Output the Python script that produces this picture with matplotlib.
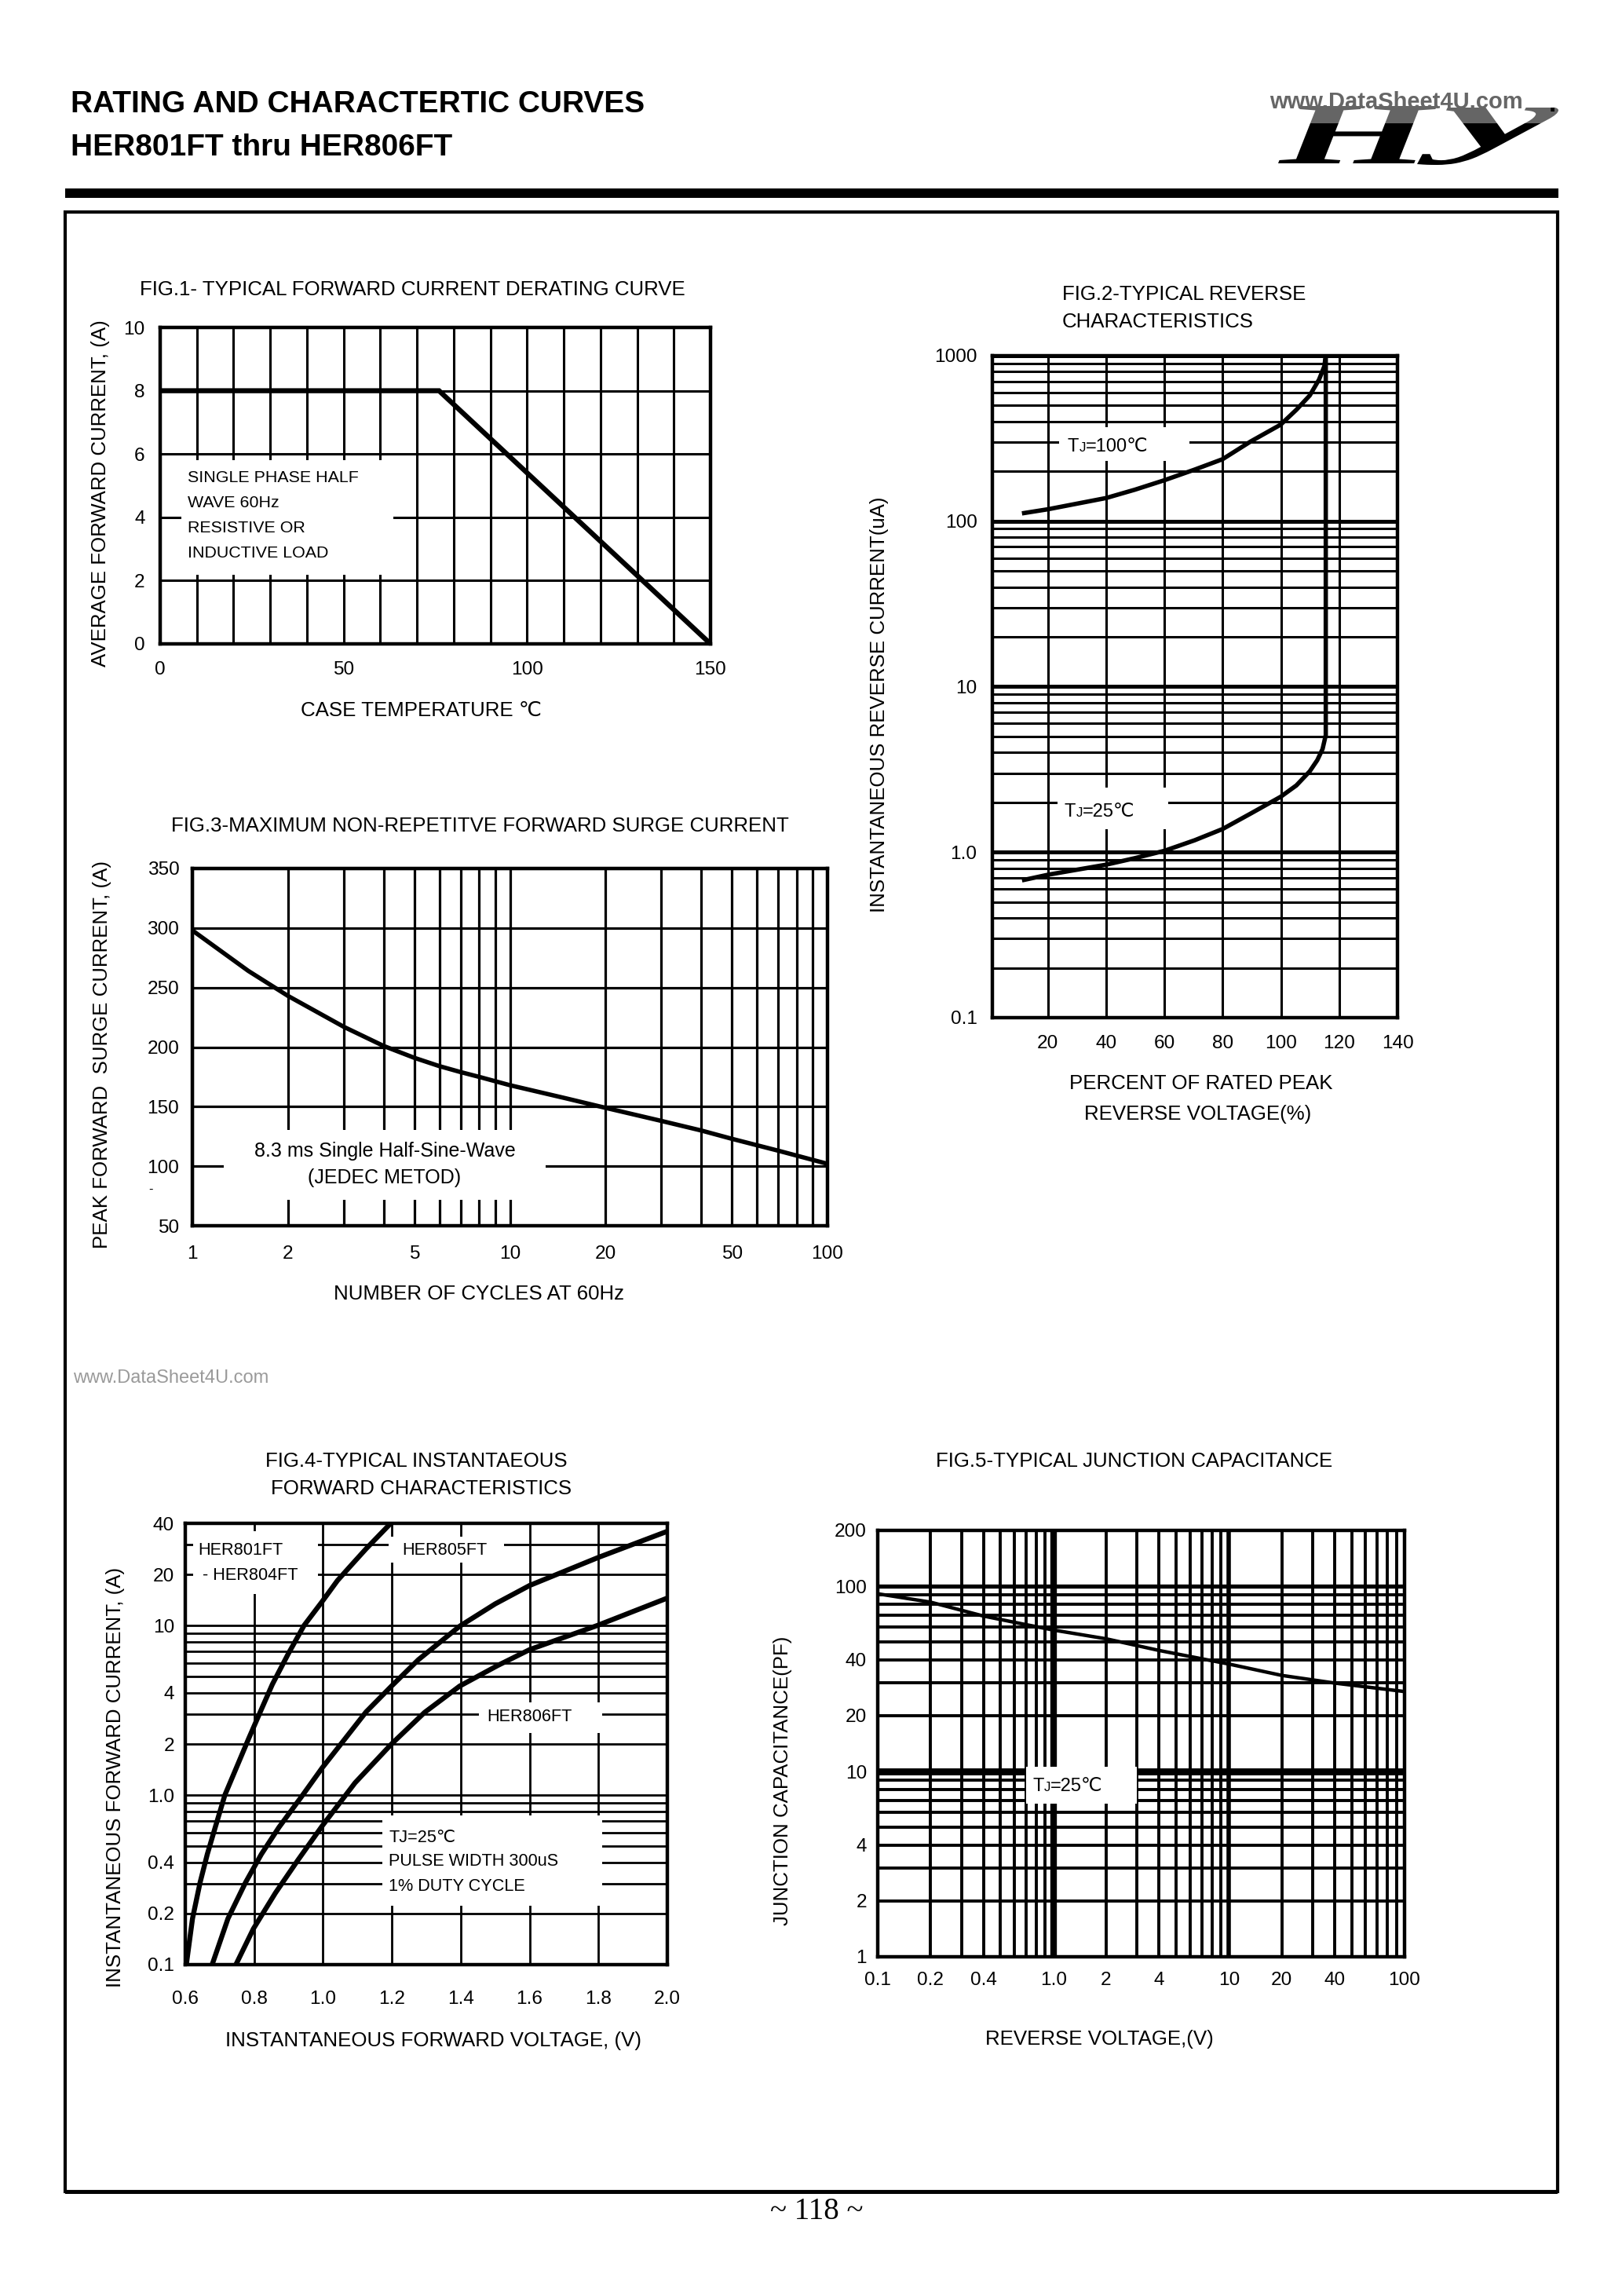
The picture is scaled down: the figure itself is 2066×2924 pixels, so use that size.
import numpy as np
import matplotlib
matplotlib.use("Agg")
import matplotlib.pyplot as plt
from matplotlib.patches import Rectangle, PathPatch
from matplotlib.textpath import TextPath
from matplotlib.font_manager import FontProperties
from matplotlib.transforms import Affine2D
from matplotlib.ticker import NullFormatter

plt.rcParams['font.family'] = ['Liberation Sans', 'DejaVu Sans']

# ---- data ----
# fig.1 derating
fig1_temp = [0, 76, 150]
fig1_amp = [8, 8, 0]

# fig.2 reverse characteristics (TJ=100 branch, breakdown, TJ=25 branch)
fig2_pct_100 = [11.9, 20, 29.4, 40, 49.9, 60.1, 70.4, 80, 89.6, 99.9, 105.3, 109.9, 113.1, 114.9, 115.4]
fig2_ir_100 = [112, 118, 127, 138, 155, 177, 205, 237, 303, 383, 471, 575, 718, 863, 1000]
fig2_pct_25 = [115.4, 114.3, 112.5, 109.9, 105.3, 99.9, 89.6, 80, 70.4, 60.1, 49.9, 40, 29.4, 20, 11.9]
fig2_ir_25 = [5.1, 4.2, 3.6, 3.08, 2.53, 2.16, 1.71, 1.38, 1.18, 1.02, 0.92, 0.84, 0.78, 0.73, 0.68]

# fig.3 surge current (read at the grid lines)
fig3_cycles = [1, 1.5, 2, 3, 4, 5, 6, 7, 8, 10, 15, 20, 30, 40, 50, 70, 100]
fig3_surge = [298, 264, 243, 217, 201, 191, 184, 179, 175, 168, 157, 149, 138, 130, 123, 113, 102]

# fig.4 forward characteristics
her801_v = [0.603, 0.621, 0.643, 0.664, 0.687, 0.715, 0.784, 0.821, 0.853, 0.899, 0.945,
            0.996, 1.042, 1.084, 1.125, 1.194]
her801_i = [0.1, 0.187, 0.305, 0.448, 0.645, 1.0, 2.15, 3.2, 4.5, 6.8, 10.0,
            13.7, 18.4, 22.9, 28.3, 39.5]
her805_v = [0.678, 0.724, 0.775, 0.821, 0.872, 0.941, 0.998, 1.047, 1.125, 1.199, 1.277,
            1.397, 1.5, 1.6, 1.8, 2.0]
her805_i = [0.1, 0.187, 0.305, 0.448, 0.645, 1.0, 1.45, 1.94, 3.09, 4.39, 6.28,
            9.9, 13.4, 17.2, 25.2, 35.9]
her806_v = [0.747, 0.798, 0.862, 0.927, 0.998, 1.093, 1.199, 1.295, 1.397, 1.507, 1.600, 1.797, 2.0]
her806_i = [0.1, 0.163, 0.265, 0.413, 0.659, 1.18, 2.0, 3.07, 4.39, 5.8, 7.2, 10.0, 14.5]

# fig.5 junction capacitance
fig5_v = [0.1, 0.2, 0.4, 0.7, 1.0, 2, 4, 10, 20, 40, 100]
fig5_c = [91, 82, 69, 62, 58, 52, 45, 38, 33, 30, 27]

# tick labels
fig1_xt = [0, 50, 100, 150]
fig1_yt = [0, 2, 4, 6, 8, 10]
fig2_xt = [20, 40, 60, 80, 100, 120, 140]
fig2_yt = [0.1, 1, 10, 100, 1000]
fig2_ytl = ['0.1', '1.0', '10', '100', '1000']
fig3_xt = [1, 2, 5, 10, 20, 50, 100]
fig3_yt = [50, 100, 150, 200, 250, 300, 350]
fig4_xt = [0.6, 0.8, 1.0, 1.2, 1.4, 1.6, 1.8, 2.0]
fig4_xtl = ['0.6', '0.8', '1.0', '1.2', '1.4', '1.6', '1.8', '2.0']
fig4_yt = [0.1, 0.2, 0.4, 1, 2, 4, 10, 20, 40]
fig4_ytl = ['0.1', '0.2', '0.4', '1.0', '2', '4', '10', '20', '40']
fig5_xt = [0.1, 0.2, 0.4, 1, 2, 4, 10, 20, 40, 100]
fig5_xtl = ['0.1', '0.2', '0.4', '1.0', '2', '4', '10', '20', '40', '100']
fig5_yt = [1, 2, 4, 10, 20, 40, 100, 200]
fig5_thick_x = [1.0, 10]
fig5_thick_y = [10, 100]

W, H = 2066, 2924
DPI = 200
fig = plt.figure(figsize=(W / DPI, H / DPI), dpi=DPI)


def rect(l, t, r, b):
    return [l / W, 1 - b / H, (r - l) / W, (b - t) / H]


def txt(x, y, s, **kw):
    kw.setdefault('va', 'center')
    kw.setdefault('size', 9.3)
    fig.text(x / W, 1 - y / H, s, **kw)


def tj(x, y, rest, size=8.5):
    # "T" with a small "J" on the baseline, then the rest
    small = size * 0.72
    txt(x, y, 'T', size=size, va='baseline')
    x += 0.611 * size * DPI / 72
    txt(x, y, 'J', size=small, va='baseline')
    x += 0.5 * small * DPI / 72
    txt(x, y, rest, size=size, va='baseline')


def blank(ax, l, t, r, b):
    # white box that hides the grid behind a label
    ax.add_patch(Rectangle((l / W, 1 - b / H), (r - l) / W, (b - t) / H,
                           transform=fig.transFigure, fc='white', ec='none',
                           zorder=2, clip_on=False))


def decade_minors(lo, hi):
    out = []
    d = lo
    while d < hi:
        out += [d * k for k in range(2, 10) if d * k < hi]
        d *= 10
    return out


def style(ax, glw, pad_x, pad_y):
    ax.set_axisbelow(True)
    ax.tick_params(which='both', length=0, labelsize=8.8)
    ax.tick_params(axis='x', pad=pad_x)
    ax.tick_params(axis='y', pad=pad_y)
    ax.grid(True, which='both', color='black', lw=glw)
    for s in ax.spines.values():
        s.set_linewidth(1.6)


# ---- page decoration ----
txt(90, 133, 'RATING AND CHARACTERTIC CURVES', size=14, weight='bold')
txt(90, 188, 'HER801FT thru HER806FT', size=14, weight='bold')

logo_font = FontProperties(family='Liberation Serif', weight='bold', style='italic')
for ch, (l, t, r, b) in [('H', (1628, 135, 1830, 208)), ('y', (1805, 137, 1985, 210))]:
    p = TextPath((0, 0), ch, size=1, prop=logo_font)
    e = p.get_extents()
    tr = (Affine2D().translate(-e.x0, -e.y0)
          .scale((r - l) / e.width / W, (b - t) / e.height / H)
          .translate(l / W, 1 - b / H) + fig.transFigure)
    fig.add_artist(PathPatch(p, transform=tr, fc='black', ec='none'))
fig.add_artist(Rectangle((1610 / W, 1 - 157 / H), 375 / W, 35 / H, transform=fig.transFigure,
                         fc='white', ec='none', alpha=0.4))
txt(1617, 130, 'www.DataSheet4U.com', size=10.5, weight='bold', color='#666666')
txt(1973, 134, '.', size=12, weight='bold', color='black')

fig.add_artist(Rectangle((83 / W, 1 - 252 / H), 1902 / W, 12 / H, transform=fig.transFigure,
                         fc='black', ec='none'))
fig.add_artist(Rectangle((83 / W, 1 - 2791 / H), 1901 / W, 2521 / H, transform=fig.transFigure,
                         fc='none', ec='black', lw=1.5))
fig.add_artist(Rectangle((83 / W, 1 - 2794 / H), 1901 / W, 5 / H, transform=fig.transFigure,
                         fc='black', ec='none'))
txt(1040, 2817, '~ 118 ~', size=14, ha='center', family='Liberation Serif')
txt(93, 1755, 'www.DataSheet4U.com', size=8.5, color='#9a9a9a')

# ---- FIG.1 ----
ax1 = fig.add_axes(rect(204, 417, 905, 820))
ax1.plot(fig1_temp, fig1_amp, color='black', lw=2.3, zorder=3, solid_joinstyle='miter')
ax1.set_xlim(0, 150)
ax1.set_ylim(0, 10)
ax1.set_xticks(fig1_xt)
ax1.set_xticks(list(range(10, 150, 10)), minor=True)
ax1.set_yticks(fig1_yt)
style(ax1, 1.1, 8, 7)
blank(ax1, 231, 586, 501, 732)
for k, line in enumerate(['SINGLE PHASE HALF', 'WAVE 60Hz', 'RESISTIVE OR', 'INDUCTIVE LOAD']):
    txt(239, 609 + 31.7 * k, line, size=7.7)
txt(178, 369, 'FIG.1- TYPICAL FORWARD CURRENT DERATING CURVE')
txt(536, 905, 'CASE TEMPERATURE ℃', ha='center')
txt(128, 628, 'AVERAGE FORWARD CURRENT, (A)', ha='center', rotation=90)

# ---- FIG.2 ----
ax2 = fig.add_axes(rect(1264, 453, 1780, 1296))
ax2.plot(fig2_pct_100 + fig2_pct_25, fig2_ir_100 + fig2_ir_25, color='black', lw=2.0, zorder=3)
ax2.set_yscale('log')
ax2.set_xlim(1, 140)
ax2.set_ylim(0.1, 1000)
ax2.set_xticks(fig2_xt)
ax2.set_yticks(fig2_yt, fig2_ytl)
ax2.set_yticks(decade_minors(0.1, 1000), minor=True)
ax2.yaxis.set_minor_formatter(NullFormatter())
style(ax2, 1.1, 8, 7)
ax2.grid(True, which='major', axis='y', color='black', lw=1.8)
blank(ax2, 1349, 544, 1515, 587)
blank(ax2, 1347, 1003, 1488, 1056)
tj(1360, 575, '=100℃')
tj(1356, 1040, '=25℃')
txt(1353, 375, 'FIG.2-TYPICAL REVERSE')
txt(1353, 410, 'CHARACTERISTICS')
txt(1530, 1380, 'PERCENT OF RATED PEAK', ha='center')
txt(1526, 1419, 'REVERSE VOLTAGE(%)', ha='center')
txt(1120, 897, 'INSTANTANEOUS REVERSE CURRENT(uA)', ha='center', rotation=90)

# ---- FIG.3 ----
ax3 = fig.add_axes(rect(245, 1106, 1054, 1561))
ax3.plot(fig3_cycles, fig3_surge, color='black', lw=2.0, zorder=3)
ax3.set_xscale('log')
ax3.set_xlim(1, 100)
ax3.set_ylim(50, 350)
ax3.set_xticks(fig3_xt, [str(v) for v in fig3_xt])
ax3.set_xticks([v for v in decade_minors(1, 100) if v not in fig3_xt], minor=True)
ax3.xaxis.set_minor_formatter(NullFormatter())
ax3.set_yticks(fig3_yt)
style(ax3, 1.15, 9, 6)
blank(ax3, 285, 1439, 695, 1528)
txt(490, 1466, '8.3 ms Single Half-Sine-Wave', ha='center', size=9)
txt(490, 1500, '(JEDEC METOD)', ha='center', size=9)
txt(192, 1515, '-', size=6, ha='center')
txt(218, 1052, 'FIG.3-MAXIMUM NON-REPETITVE FORWARD SURGE CURRENT')
txt(610, 1648, 'NUMBER OF CYCLES AT 60Hz', ha='center')
txt(130, 1343, 'PEAK FORWARD  SURGE CURRENT, (A)', ha='center', rotation=90)

# ---- FIG.4 ----
ax4 = fig.add_axes(rect(236, 1940, 850, 2502))
for v, i in [(her801_v, her801_i), (her805_v, her805_i), (her806_v, her806_i)]:
    ax4.plot(v, i, color='black', lw=2.3, zorder=3)
ax4.set_yscale('log')
ax4.set_xlim(0.6, 2.0)
ax4.set_ylim(0.1, 40)
ax4.set_xticks(fig4_xt, fig4_xtl)
ax4.set_yticks(fig4_yt, fig4_ytl)
ax4.set_yticks([v for v in decade_minors(0.1, 40) if v not in fig4_yt], minor=True)
ax4.yaxis.set_minor_formatter(NullFormatter())
style(ax4, 1.0, 12, 5)
blank(ax4, 246, 1950, 405, 2030)
blank(ax4, 495, 1957, 642, 1990)
blank(ax4, 610, 2168, 767, 2207)
blank(ax4, 487, 2312, 767, 2427)
txt(252, 1975, 'HER801FT', size=7.8)
txt(258, 2007, '- HER804FT', size=7.8)
txt(512, 1974, 'HER805FT', size=7.8)
txt(620, 2186, 'HER806FT', size=7.8)
txt(495, 2340, 'TJ=25℃', size=7.8)
txt(495, 2371, 'PULSE WIDTH 300uS', size=7.8)
txt(495, 2402, '1% DUTY CYCLE', size=7.8)
txt(530, 1861, 'FIG.4-TYPICAL INSTANTAEOUS', ha='center')
txt(537, 1896, 'FORWARD CHARACTERISTICS', ha='center')
txt(552, 2599, 'INSTANTANEOUS FORWARD VOLTAGE, (V)', ha='center')
txt(147, 2263, 'INSTANTANEOUS FORWARD CURRENT, (A)', ha='center', rotation=90)

# ---- FIG.5 ----
ax5 = fig.add_axes(rect(1118, 1949, 1789, 2492))
ax5.plot(fig5_v, fig5_c, color='black', lw=1.6, zorder=3)
ax5.set_xscale('log')
ax5.set_yscale('log')
ax5.set_xlim(0.1, 100)
ax5.set_ylim(1, 200)
ax5.set_xticks(fig5_xt, fig5_xtl)
ax5.set_xticks([v for v in decade_minors(0.1, 100) if v not in fig5_xt], minor=True)
ax5.set_yticks(fig5_yt, [str(v) for v in fig5_yt])
ax5.set_yticks([v for v in decade_minors(1, 100) if v not in fig5_yt], minor=True)
ax5.xaxis.set_minor_formatter(NullFormatter())
ax5.yaxis.set_minor_formatter(NullFormatter())
style(ax5, 1.4, 7, 5)
for xv, w in zip(fig5_thick_x, [3.0, 2.0]):
    ax5.axvline(xv, color='black', lw=w, zorder=0.6)
for yv, w in zip(fig5_thick_y, [3.2, 1.9]):
    ax5.axhline(yv, color='black', lw=w, zorder=0.6)
blank(ax5, 1307, 2250, 1448, 2297)
tj(1315, 2281, '=25℃')
txt(1445, 1861, 'FIG.5-TYPICAL JUNCTION CAPACITANCE', ha='center')
txt(1400, 2597, 'REVERSE VOLTAGE,(V)', ha='center')
txt(997, 2268, 'JUNCTION CAPACITANCE(PF)', ha='center', rotation=90)

fig.savefig('out.png', dpi=DPI)
